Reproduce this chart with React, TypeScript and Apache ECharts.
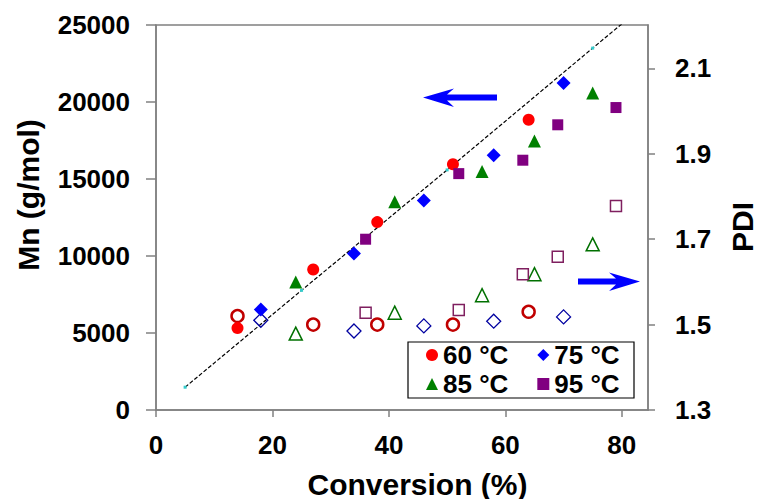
import React, { useEffect, useRef } from "react";
import * as echarts from "echarts";

const conversion60 = [14, 27, 38, 51, 64];
const mn60 = [5320, 9120, 12200, 15960, 18850];
const pdi60 = [1.52, 1.5, 1.5, 1.5, 1.53];

const conversion75 = [18, 34, 46, 58, 70];
const mn75 = [6520, 10160, 13610, 16540, 21230];
const pdi75 = [1.51, 1.485, 1.497, 1.508, 1.518];

const conversion85 = [24, 41, 56, 65, 75];
const mn85 = [8310, 13520, 15480, 17470, 20580];
const pdi85 = [1.479, 1.528, 1.569, 1.618, 1.688];

const conversion95 = [36, 52, 63, 69, 79];
const mn95 = [11090, 15350, 16220, 18520, 19640];
const pdi95 = [1.528, 1.534, 1.618, 1.659, 1.778];

const trendConversion = [5, 25, 50, 75, 80];
const trendMn = [1480, 7770, 15590, 23500, 25070];

const legendRow1 = ["60 °C", "75 °C"];
const legendRow2 = ["85 °C", "95 °C"];

const pairs = (xs: number[], ys: number[]) => xs.map((x, i) => [x, ys[i]]);

const FONT = "Liberation Sans, Arial, sans-serif";

export default function App() {
  const ref = useRef<HTMLDivElement>(null);
  useEffect(() => {
    if (!ref.current) return;
    const chart = echarts.init(ref.current, null, { renderer: "svg" });
    const axisLine = { show: true, lineStyle: { color: "#808080", width: 1.5 } };
    const tickLabel = { color: "#000", fontSize: 26, fontWeight: "bold" as const, fontFamily: FONT };
    const filled = (name: string, xs: number[], ys: number[], symbol: string, size: number, color: string) => ({
      name,
      type: "scatter",
      yAxisIndex: 0,
      symbol,
      symbolSize: size,
      data: pairs(xs, ys),
      itemStyle: { color, opacity: 1 },
      z: 5,
    });
    const hollow = (name: string, xs: number[], ys: number[], symbol: string, size: number, color: string, bw: number) => ({
      name,
      type: "scatter",
      yAxisIndex: 1,
      symbol,
      symbolSize: size,
      data: pairs(xs, ys),
      itemStyle: { color: "rgba(255,255,255,0)", borderColor: color, borderWidth: bw, opacity: 1 },
      z: 5,
    });
    const legendBase = {
      left: 426,
      orient: "horizontal",
      itemWidth: 12,
      itemHeight: 12,
      itemGap: 29,
      padding: 0,
      selectedMode: false,
      textStyle: { color: "#000", fontSize: 26, fontWeight: "bold", fontFamily: FONT },
    };
    chart.setOption({
      animation: false,
      backgroundColor: "#fff",
      textStyle: { fontFamily: FONT },
      grid: {
        left: 156,
        top: 25,
        width: 492,
        height: 385,
        show: true,
        borderColor: "#808080",
        borderWidth: 1.5,
        backgroundColor: "transparent",
      },
      legend: [
        { ...legendBase, top: 342, data: legendRow1 },
        { ...legendBase, top: 371, data: legendRow2 },
      ],
      xAxis: {
        type: "value",
        min: 0,
        max: 84.5,
        interval: 20,
        axisLine: { ...axisLine, onZero: false },
        axisTick: { show: true, inside: false, length: 7, lineStyle: { color: "#808080", width: 1.5 } },
        axisLabel: { ...tickLabel, margin: 22, showMaxLabel: false },
        splitLine: { show: false },
      },
      yAxis: [
        {
          type: "value",
          position: "left",
          min: 0,
          max: 25000,
          interval: 5000,
          axisLine,
          axisTick: { show: true, inside: false, length: 10, lineStyle: { color: "#808080", width: 1.5 } },
          axisLabel: { ...tickLabel, margin: 26, formatter: (v: number) => String(Math.round(v)) },
          splitLine: { show: false },
        },
        {
          type: "value",
          position: "right",
          min: 1.3,
          max: 2.2016,
          interval: 0.2,
          axisLine,
          axisTick: { show: true, inside: false, length: 7, lineStyle: { color: "#808080", width: 1.5 } },
          axisLabel: {
            ...tickLabel,
            margin: 27,
            showMaxLabel: false,
            formatter: (v: number) => v.toFixed(1),
          },
          splitLine: { show: false },
        },
      ],
      graphic: [
        {
          type: "rect",
          shape: { x: 408, y: 342, width: 226, height: 56 },
          style: { fill: "#fff", stroke: "#000", lineWidth: 1.2 },
          z: 1,
        },
        {
          type: "text",
          x: 28.5,
          y: 195,
          rotation: Math.PI / 2,
          style: {
            text: "Mn (g/mol)",
            fontSize: 30,
            fontWeight: "bold",
            fontFamily: FONT,
            fill: "#000",
            align: "center",
            verticalAlign: "middle",
          },
        },
        {
          type: "text",
          x: 742,
          y: 227,
          rotation: Math.PI / 2,
          style: {
            text: "PDI",
            fontSize: 30,
            fontWeight: "bold",
            fontFamily: FONT,
            fill: "#000",
            align: "center",
            verticalAlign: "middle",
          },
        },
        {
          type: "text",
          x: 417.5,
          y: 484,
          style: {
            text: "Conversion (%)",
            fontSize: 30,
            fontWeight: "bold",
            fontFamily: FONT,
            fill: "#000",
            align: "center",
            verticalAlign: "middle",
          },
        },
        {
          type: "polygon",
          shape: {
            points: [
              [423, 97.5],
              [454, 88.5],
              [447, 94.5],
              [497, 94.5],
              [497, 100.5],
              [447, 100.5],
              [454, 107],
            ],
          },
          style: { fill: "#0000FF" },
          z: 10,
        },
        {
          type: "polygon",
          shape: {
            points: [
              [640, 281.5],
              [609, 272.5],
              [616, 278.5],
              [578, 278.5],
              [578, 284.5],
              [616, 284.5],
              [609, 291],
            ],
          },
          style: { fill: "#0000FF" },
          z: 10,
        },
      ],
      series: [
        {
          name: "trend",
          type: "line",
          yAxisIndex: 0,
          data: trendConversion.map((x, i) =>
            i === trendConversion.length - 1
              ? { value: [x, trendMn[i]], symbol: "none" }
              : { value: [x, trendMn[i]] }
          ),
          symbol: "rect",
          symbolSize: 3,
          itemStyle: { color: "#33CCCC" },
          lineStyle: { color: "#000", width: 1.2, type: [4, 2] },
          clip: true,
          z: 3,
        },
        hollow("60 °C PDI", conversion60, pdi60, "circle", 12, "#C00000", 2.5),
        hollow("75 °C PDI", conversion75, pdi75, "diamond", 14, "#0000A0", 1.3),
        hollow("85 °C PDI", conversion85, pdi85, "triangle", 13, "#007000", 1.5),
        hollow("95 °C PDI", conversion95, pdi95, "rect", 11, "#7F1F5F", 1.5),
        filled("60 °C", conversion60, mn60, "circle", 12, "#FF0000"),
        filled("75 °C", conversion75, mn75, "diamond", 14, "#0000FF"),
        filled("85 °C", conversion85, mn85, "triangle", 13, "#008000"),
        filled("95 °C", conversion95, mn95, "rect", 11, "#800080"),
      ],
    });
    return () => chart.dispose();
  }, []);
  return (
    <div
      ref={ref}
      style={{ position: "fixed", left: 0, top: 0, width: 757, height: 499 }}
    />
  );
}
